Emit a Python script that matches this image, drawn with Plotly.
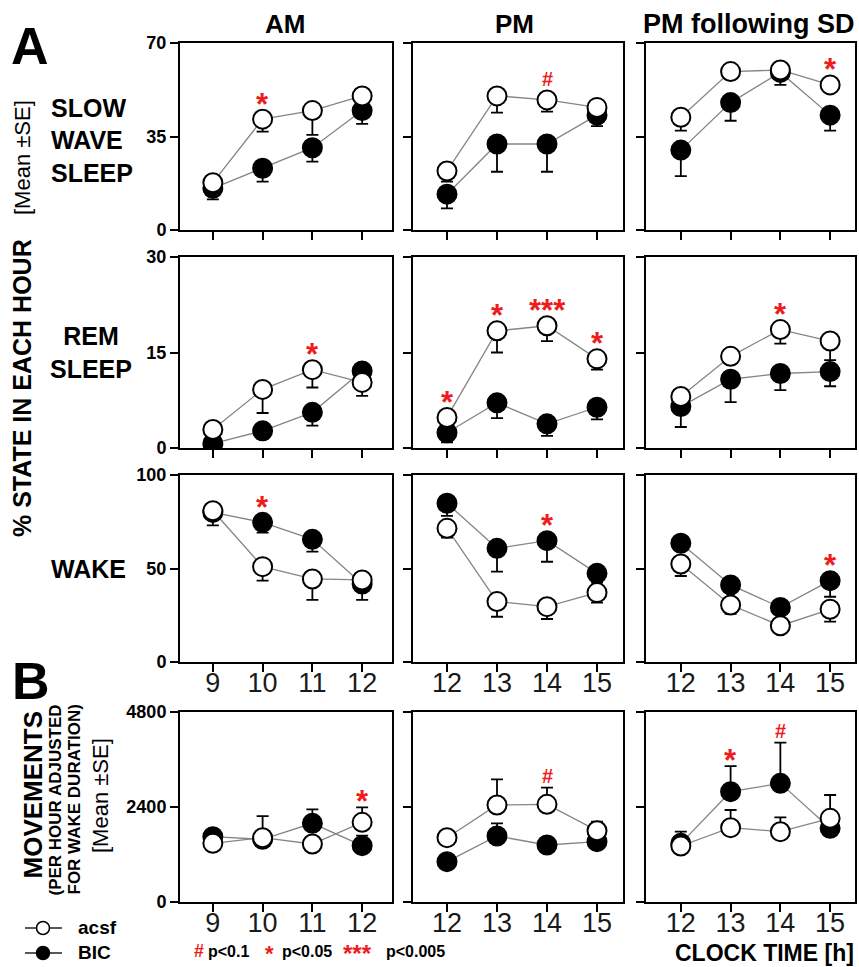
import plotly.graph_objects as go

W, H = 859, 967
FONT = "Liberation Sans, Arial, Helvetica, sans-serif"

# ---------------- data ----------------
CONDITIONS = ["AM", "PM", "PM following SD"]
HOURS = {"AM": [9, 10, 11, 12], "PM": [12, 13, 14, 15], "PM following SD": [12, 13, 14, 15]}
STATES = ["SWS", "REM", "WAKE", "MOV"]
SERIES = ["acsf", "BIC"]

# Slow wave sleep (% of hour)
SWS_ACSF = {"AM": [17.7, 41.5, 44.7, 50.2], "PM": [22.1, 50.2, 48.7, 45.9], "PM following SD": [42.2, 59.3, 59.9, 54.3]}
SWS_ACSF_SE = {"AM": [0, 4.7, 9.1, 0], "PM": [4.0, 6.3, 4.4, 0], "PM following SD": [5.0, 0, 0, 0]}
SWS_BIC = {"AM": [15.6, 23.1, 30.8, 44.7], "PM": [13.4, 32.2, 32.2, 43.0], "PM following SD": [29.9, 47.7, 59.0, 43.0]}
SWS_BIC_SE = {"AM": [4.1, 5.0, 5.2, 5.0], "PM": [5.3, 10.4, 10.4, 4.1], "PM following SD": [9.7, 6.8, 4.7, 5.8]}

# REM sleep (% of hour)
REM_ACSF = {"AM": [2.9, 9.2, 12.3, 10.3], "PM": [4.8, 18.4, 19.2, 14.0], "PM following SD": [8.1, 14.4, 18.6, 16.8]}
REM_ACSF_SE = {"AM": [0, 3.7, 2.8, 2.1], "PM": [0, 3.4, 2.4, 1.7], "PM following SD": [0, 0, 2.2, 3.0]}
REM_BIC = {"AM": [0.7, 2.7, 5.6, 12.1], "PM": [2.4, 7.1, 3.8, 6.4], "PM following SD": [6.5, 10.8, 11.7, 12.0]}
REM_BIC_SE = {"AM": [0.5, 1.3, 2.1, 0], "PM": [1.5, 2.4, 1.9, 1.9], "PM following SD": [3.2, 3.6, 2.6, 2.3]}

# Wake (% of hour)
WAKE_ACSF = {"AM": [80.9, 51.0, 44.4, 43.9], "PM": [71.5, 32.3, 29.6, 37.1], "PM following SD": [52.4, 30.5, 19.4, 28.2]}
WAKE_ACSF_SE = {"AM": [7.8, 7.5, 11.2, 0], "PM": [5.0, 8.1, 6.6, 5.4], "PM following SD": [6.4, 4.8, 0, 6.6]}
WAKE_BIC = {"AM": [80.0, 74.7, 65.6, 41.7], "PM": [84.9, 60.8, 64.9, 47.4], "PM following SD": [63.5, 41.2, 29.2, 43.5]}
WAKE_BIC_SE = {"AM": [0, 5.5, 6.6, 8.5], "PM": [6.8, 12.5, 11.3, 5.0], "PM following SD": [0, 0, 0, 8.6]}

# Movements per hour adjusted for wake duration
MOV_ACSF = {"AM": [1482, 1625, 1465, 2013], "PM": [1625, 2450, 2467, 1802], "PM following SD": [1415, 1878, 1776, 2114]}
MOV_ACSF_SE = {"AM": [0, 547, 0, 379], "PM": [0, 649, 421, 227], "PM following SD": [361, 446, 363, 589]}
MOV_BIC = {"AM": [1650, 1583, 1988, 1423], "PM": [1019, 1667, 1440, 1524], "PM following SD": [1482, 2787, 2998, 1861]}
MOV_BIC_SE = {"AM": [126, 0, 354, 252], "PM": [0, 321, 0, 0], "PM following SD": [0, 648, 1026, 0]}

ERR_SIDE = {"SWS": "down", "REM": "down", "WAKE": "down", "MOV": "up"}
Y_MAX = {"SWS": 70, "REM": 30, "WAKE": 100, "MOV": 4800}

SIGNIFICANCE = [
    ("SWS", "AM", 10, "*"), ("SWS", "PM", 14, "#"), ("SWS", "PM following SD", 15, "*"),
    ("REM", "AM", 11, "*"), ("REM", "PM", 12, "*"), ("REM", "PM", 13, "*"),
    ("REM", "PM", 14, "***"), ("REM", "PM", 15, "*"), ("REM", "PM following SD", 14, "*"),
    ("WAKE", "AM", 10, "*"), ("WAKE", "PM", 14, "*"), ("WAKE", "PM following SD", 15, "*"),
    ("MOV", "AM", 12, "*"), ("MOV", "PM", 14, "#"),
    ("MOV", "PM following SD", 13, "*"), ("MOV", "PM following SD", 14, "#"),
]

DATA = {
    "SWS": (SWS_ACSF, SWS_ACSF_SE, SWS_BIC, SWS_BIC_SE),
    "REM": (REM_ACSF, REM_ACSF_SE, REM_BIC, REM_BIC_SE),
    "WAKE": (WAKE_ACSF, WAKE_ACSF_SE, WAKE_BIC, WAKE_BIC_SE),
    "MOV": (MOV_ACSF, MOV_ACSF_SE, MOV_BIC, MOV_BIC_SE),
}

# ---------------- layout geometry (window pixels) ----------------
COL_X = [(180, 392), (413, 623), (646, 855)]
ROW_Y = [(43, 230), (257, 448), (475, 662), (712, 902)]
X_RANGE = {"AM": [8.34, 12.6], "PM": [11.32, 15.52], "PM following SD": [11.3, 15.5]}


def px(x):
    return x / W


def py(y):
    return 1 - y / H


fig = go.Figure()
layout = dict()
annotations = []
shapes = []

LINE_GRAY = "#858585"
RED = "#ee1c1c"
MARKER_FILL = {"acsf": "white", "BIC": "black"}

for r, state in enumerate(STATES):
    acsf, acsf_se, bic, bic_se = DATA[state]
    for c, cond in enumerate(CONDITIONS):
        k = r * 3 + c + 1
        xa = "x" if k == 1 else f"x{k}"
        ya = "y" if k == 1 else f"y{k}"
        hours = HOURS[cond]

        def err(se):
            zeros = [0] * len(se)
            if ERR_SIDE[state] == "up":
                return dict(type="data", symmetric=False, array=se, arrayminus=zeros,
                            color="black", thickness=1.8, width=6)
            return dict(type="data", symmetric=False, array=zeros, arrayminus=se,
                        color="black", thickness=1.8, width=6)

        for series in (bic[cond], acsf[cond]):
            fig.add_trace(go.Scatter(x=hours, y=series, mode="lines", xaxis=xa, yaxis=ya,
                                     line=dict(color=LINE_GRAY, width=1.3),
                                     showlegend=False, hoverinfo="skip"))
        fig.add_trace(go.Scatter(x=hours, y=bic[cond], mode="markers", xaxis=xa, yaxis=ya,
                                 marker=dict(size=19, color=MARKER_FILL["BIC"], line=dict(color="black", width=2)),
                                 error_y=err(bic_se[cond]), showlegend=False, name="BIC"))
        fig.add_trace(go.Scatter(x=hours, y=acsf[cond], mode="markers", xaxis=xa, yaxis=ya,
                                 marker=dict(size=19, color=MARKER_FILL["acsf"], line=dict(color="black", width=2)),
                                 error_y=err(acsf_se[cond]), showlegend=False, name="acsf"))

        x0, x1 = COL_X[c]
        y0, y1 = ROW_Y[r]
        ymax = Y_MAX[state]
        layout["xaxis" if k == 1 else f"xaxis{k}"] = dict(
            domain=[px(x0), px(x1)], range=X_RANGE[cond], anchor=ya,
            tickvals=hours, ticktext=[str(h) for h in hours],
            showticklabels=(r >= 2), ticks="outside", ticklen=8, tickwidth=2, tickcolor="black",
            ticklabelstandoff=-12,
            showline=True, linewidth=2, linecolor="black", mirror=True,
            showgrid=False, zeroline=False,
            tickfont=dict(family=FONT, size=27, color="#1a1a1a"),
        )
        layout["yaxis" if k == 1 else f"yaxis{k}"] = dict(
            domain=[py(y1), py(y0)], range=[0, ymax], anchor=xa,
            tickvals=[0, ymax / 2, ymax], ticktext=[str(int(v)) for v in (0, ymax / 2, ymax)],
            showticklabels=(c == 0), ticks="outside", ticklen=8, tickwidth=2, tickcolor="black",
            showline=True, linewidth=2, linecolor="black", mirror=True,
            showgrid=False, zeroline=False,
            tickfont=dict(family=FONT, size=18, color="black", weight="bold"),
        )

# significance marks, placed just above the highest mark at that hour
for state, cond, hour, label in SIGNIFICANCE:
    r = STATES.index(state)
    c = CONDITIONS.index(cond)
    k = r * 3 + c + 1
    acsf, acsf_se, bic, bic_se = DATA[state]
    i = HOURS[cond].index(hour)
    ppu = (ROW_Y[r][1] - ROW_Y[r][0]) / Y_MAX[state]
    cands = []
    for mean, se in ((acsf[cond][i], acsf_se[cond][i]), (bic[cond][i], bic_se[cond][i])):
        cands.append((mean, 21))
        if ERR_SIDE[state] == "up" and se > 0:
            cands.append((mean + se, 12))
    yv, sh = max(cands, key=lambda t: t[0] * ppu + t[1])
    if "*" in label:
        size, corr = 31, -6
    else:
        size, corr = 20, 0
    annotations.append(dict(
        x=hour, y=yv, xref="x" if k == 1 else f"x{k}", yref="y" if k == 1 else f"y{k}",
        text=f"<b>{label}</b>", showarrow=False, yshift=sh + corr,
        xanchor="center", yanchor="middle",
        font=dict(family=FONT, size=size, color=RED),
    ))


def txt(text, x, y, size, bold=True, xanchor="center", angle=0, color="black", align="center"):
    annotations.append(dict(
        x=px(x), y=py(y), xref="paper", yref="paper", showarrow=False,
        text=f"<b>{text}</b>" if bold else text, textangle=angle,
        xanchor=xanchor, yanchor="middle", align=align,
        font=dict(family=FONT, size=size, color=color),
    ))


# panel letters
txt("A", 9, 46.5, 52, xanchor="left")
txt("B", 10, 681, 52, xanchor="left")

# column titles
txt("AM", 285, 24, 26)
txt("PM", 514, 24, 26)
txt("PM following SD", 748, 24, 27)

# row labels
txt("SLOW", 49, 108, 25, xanchor="left")
txt("WAVE", 49, 140, 25, xanchor="left")
txt("SLEEP", 49, 173, 25, xanchor="left")
txt("REM<br>SLEEP", 91, 352, 25)
txt("WAKE", 49, 569, 25, xanchor="left")

# vertical axis titles
txt("% STATE IN EACH HOUR", 22, 388, 25, angle=-90)
txt("[Mean ±SE]", 22, 158, 22, bold=False, angle=-90)
txt("MOVEMENTS", 32.5, 795, 26, angle=-90)
txt("(PER HOUR ADJUSTED", 54.5, 800, 17, angle=-90)
txt("FOR WAKE DURATION)", 73.5, 800, 17, angle=-90)
txt("[Mean ±SE]", 100, 796, 22, bold=False, angle=-90)

# significance key
txt("#", 192, 951, 18, xanchor="left", color=RED)
txt("p&lt;0.1", 206, 951, 16, xanchor="left")
txt("*", 263, 953, 22, xanchor="left", color=RED)
txt("p&lt;0.05", 280, 951, 16, xanchor="left")
txt("***", 341, 953, 24, xanchor="left", color=RED)
txt("p&lt;0.005", 384, 951, 16, xanchor="left")

# x axis title
txt("CLOCK TIME [h]", 856, 953, 23, xanchor="right")

# legend key: line with circle, then series name
LEGEND_Y = {"acsf": 928, "BIC": 953}
for name in SERIES:
    yc = LEGEND_Y[name]
    shapes.append(dict(type="line", xref="paper", yref="paper",
                       x0=px(25), x1=px(62), y0=py(yc), y1=py(yc),
                       line=dict(color="#222", width=1.5), layer="above"))
    shapes.append(dict(type="circle", xref="paper", yref="paper",
                       x0=px(36.5), x1=px(49.5), y0=py(yc + 6.5), y1=py(yc - 6.5),
                       fillcolor=MARKER_FILL[name], line=dict(color="black", width=1.5), layer="above"))
    txt(name, 76, yc - 1, 19, xanchor="left")

fig.update_layout(
    width=W, height=H,
    margin=dict(l=0, r=0, t=0, b=0, autoexpand=False),
    paper_bgcolor="white", plot_bgcolor="white",
    font=dict(family=FONT, color="black"),
    annotations=annotations,
    shapes=shapes,
    showlegend=False,
    hovermode=False,
    **layout,
)

# remove the browser's default 8px page margin so the figure fills the window
fig.write_html(
    "out.html",
    config={"displayModeBar": False},
    post_script="document.body.style.margin='0px';document.body.style.overflow='hidden';",
)
